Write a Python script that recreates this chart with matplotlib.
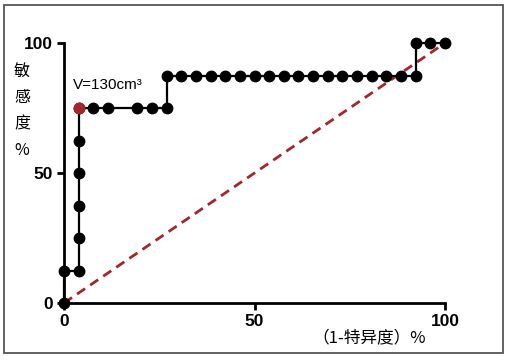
import matplotlib.pyplot as plt
from matplotlib.patches import Rectangle

plt.rcParams['font.family'] = ['Liberation Sans', 'Noto Sans CJK SC', 'DejaVu Sans']

# ROC points: 1-specificity (%) and sensitivity (%)
fpr = [0, 0, 1/26, 1/26, 1/26, 1/26, 1/26, 1/26,
       2/26, 3/26, 5/26, 6/26, 7/26,
       7/26, 8/26, 9/26, 10/26, 11/26, 12/26, 13/26, 14/26, 15/26, 16/26,
       17/26, 18/26, 19/26, 20/26, 21/26, 22/26, 23/26, 24/26,
       24/26, 25/26, 26/26]
tpr = [0, 12.5, 12.5, 25, 37.5, 50, 62.5, 75,
       75, 75, 75, 75, 75,
       87.5, 87.5, 87.5, 87.5, 87.5, 87.5, 87.5, 87.5, 87.5, 87.5,
       87.5, 87.5, 87.5, 87.5, 87.5, 87.5, 87.5, 87.5,
       100, 100, 100]
fpr = [v * 100 for v in fpr]
cutoff = (100 / 26, 75)
cutoff_label = 'V=130cm³'

fig = plt.figure(figsize=(5.08, 3.6), dpi=100)
ax = fig.add_axes([64/508, 57/360, 381/508, 260/360])

ax.plot([0, 100], [0, 100], color='#a3262a', lw=2, ls=(0, (3.5, 2.2)), clip_on=False, zorder=2)
ax.plot(fpr, tpr, color='black', lw=1.6, marker='o', ms=7.5, clip_on=False, zorder=3)
ax.plot(*cutoff, marker='o', ms=7.5, color='#a3262a', clip_on=False, zorder=4)
ax.text(cutoff[0] - 1.5, 84, cutoff_label, fontsize=11, va='center', ha='left')

ax.set_xlim(0, 100)
ax.set_ylim(0, 100)
ax.set_xticks([0, 50, 100])
ax.set_yticks([0, 50, 100])
for s in ['top', 'right']:
    ax.spines[s].set_visible(False)
for s in ['left', 'bottom']:
    ax.spines[s].set_linewidth(2)
ax.tick_params(width=2, length=5, labelsize=12.5, pad=3)
for lab in ax.get_xticklabels() + ax.get_yticklabels():
    lab.set_fontweight('bold')

fig.text(22/508, 1 - 111/360, '敏\n感\n度\n%', fontsize=11.5, ha='center', va='center',
         linespacing=1.7, family=['Noto Sans CJK SC', 'DejaVu Sans'])
fig.text(369/508, 1 - 338/360, '（1-特异度）%', fontsize=12, ha='center', va='center',
         family=['Noto Sans CJK SC', 'DejaVu Sans'])

fig.patches.append(Rectangle((4/508, 7/360), 499/508, 348/360, transform=fig.transFigure,
                             fill=False, edgecolor='#555555', lw=1.3))

fig.savefig('out.png', dpi=100)
